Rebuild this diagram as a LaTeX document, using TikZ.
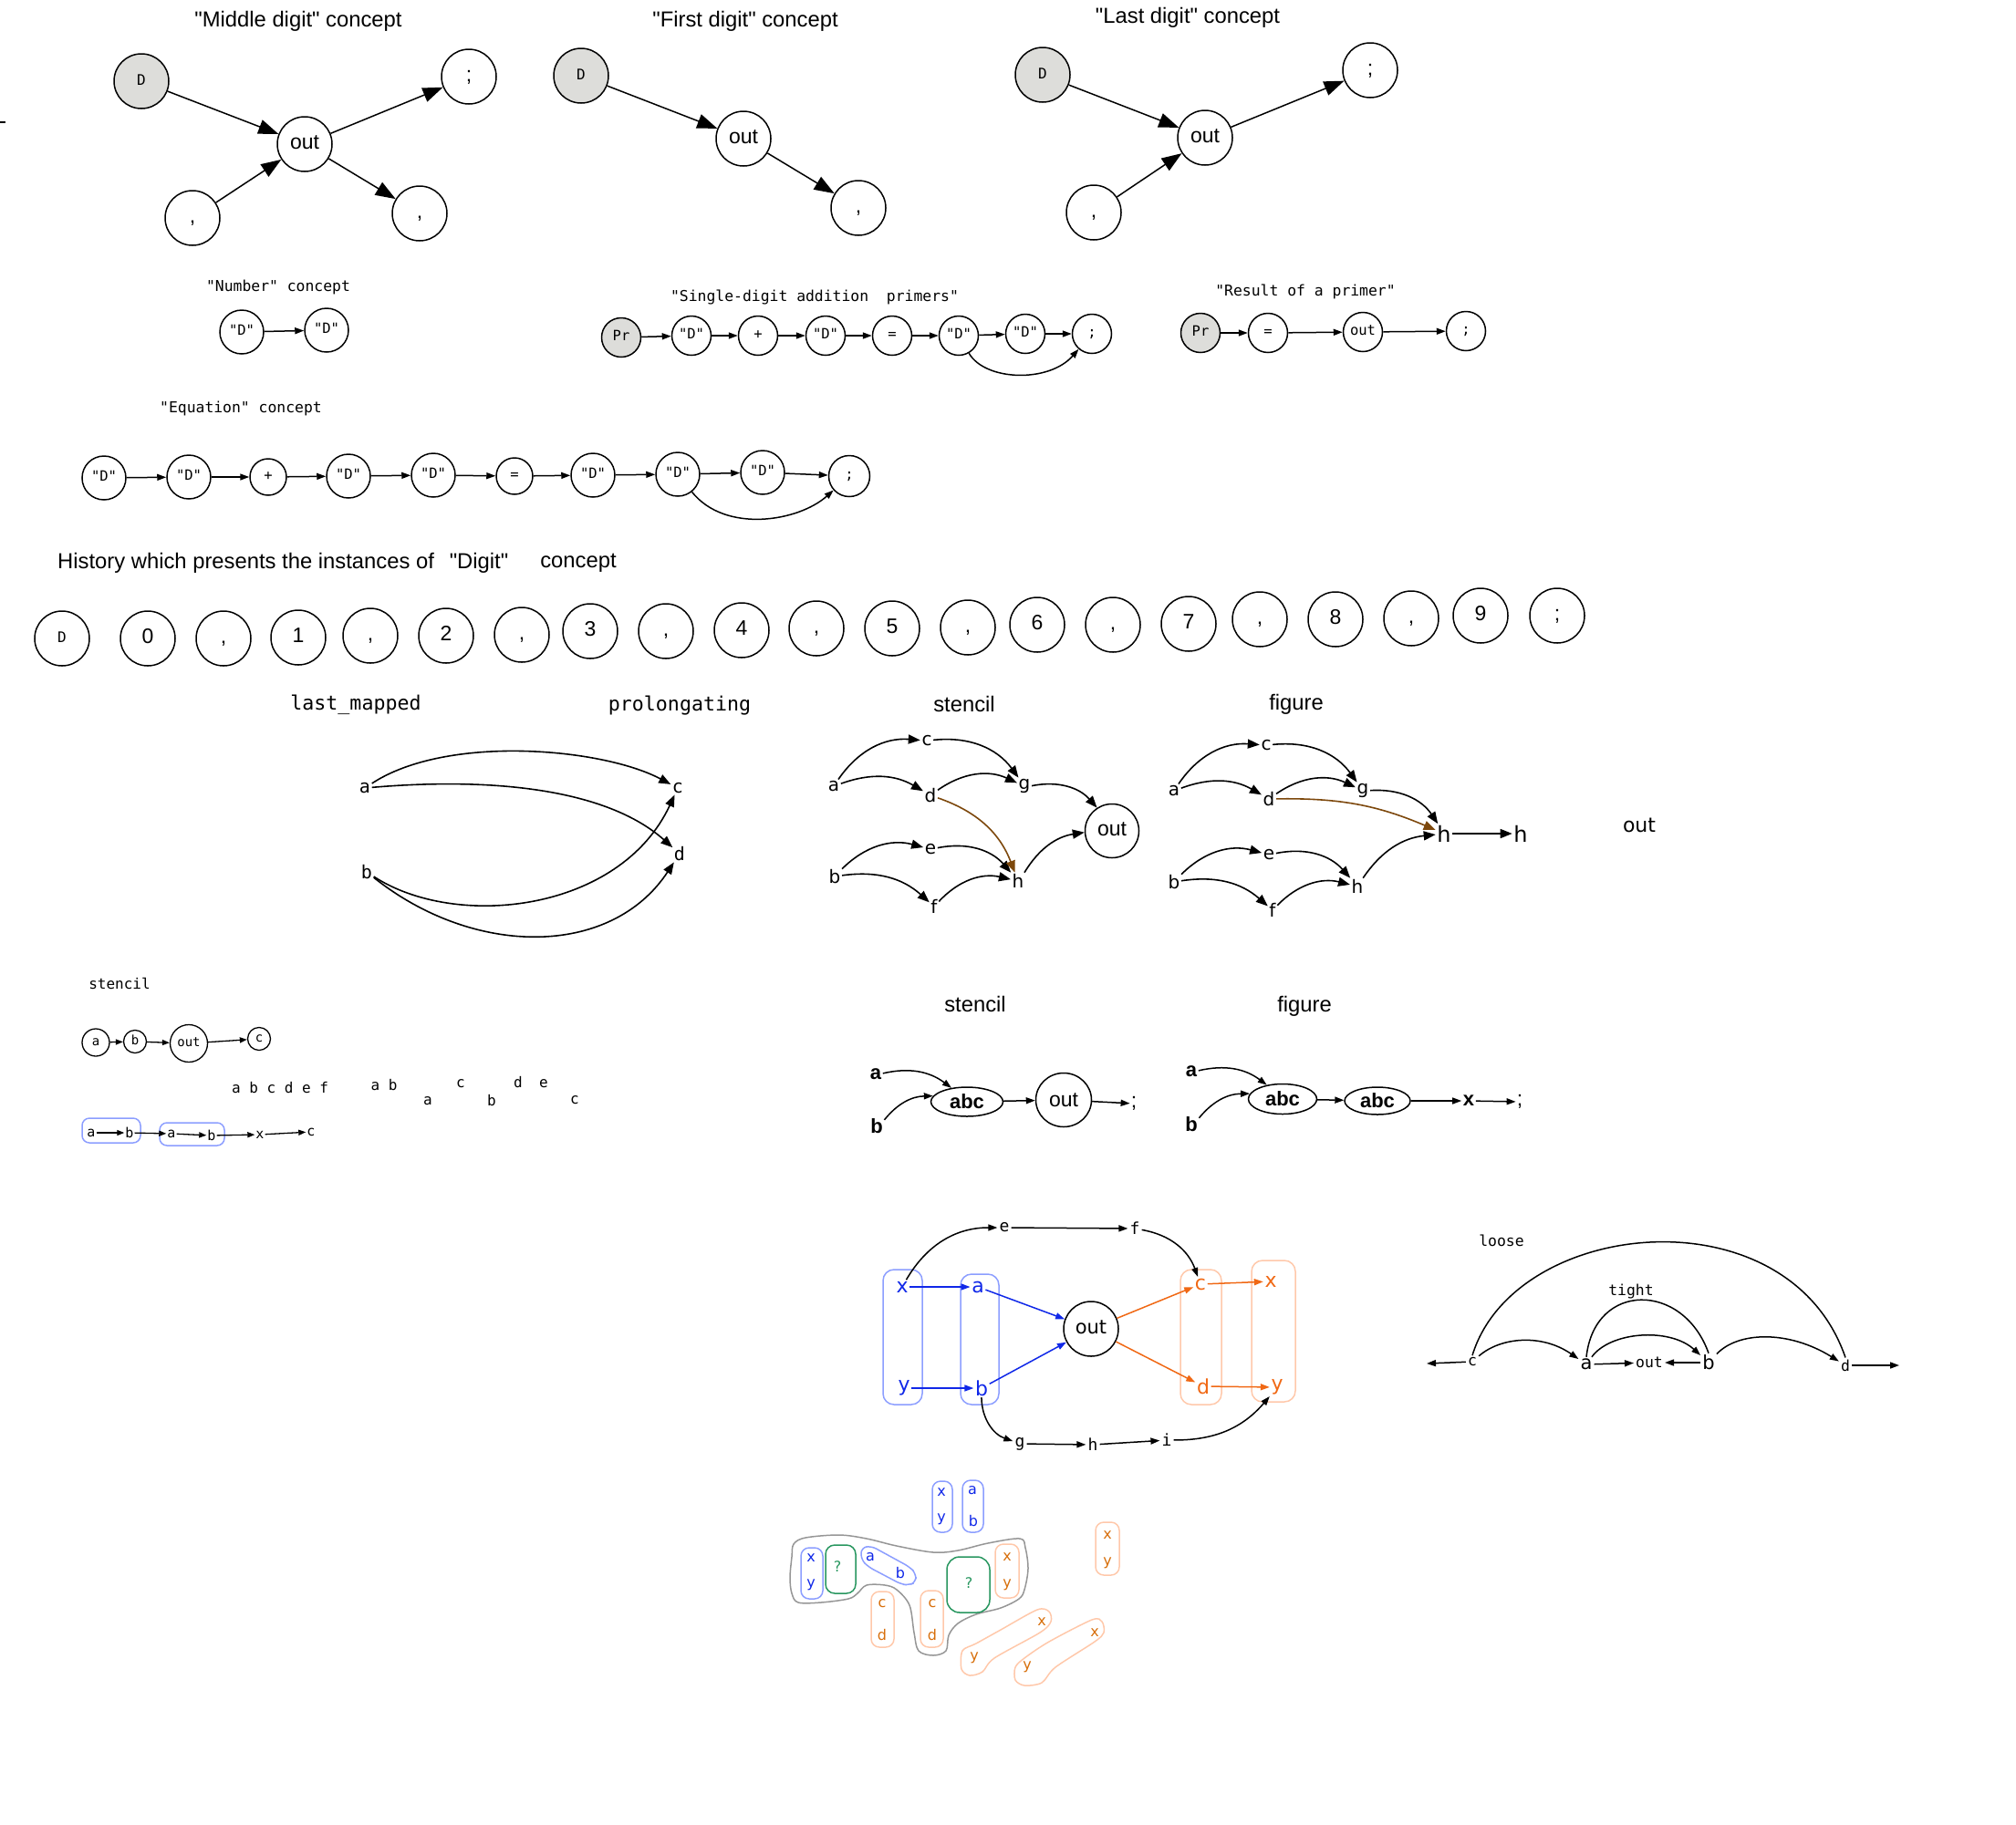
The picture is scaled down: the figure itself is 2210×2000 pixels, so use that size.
\documentclass[tikz,border=0pt]{standalone}
\usepackage{fontspec}
\setmainfont{Liberation Sans}[Ligatures=TeXOff]
\newfontfamily\dvs{DejaVu Sans}
\newfontfamily\dvm{DejaVu Sans Mono}
\usetikzlibrary{arrows.meta,shapes.geometric}
\newcommand\fsz[1]{\fontsize{#1}{#1}\selectfont}
\definecolor{gfill}{RGB}{221,221,218}
\definecolor{brn}{RGB}{125,72,12}
\definecolor{blu}{RGB}{16,40,232}
\definecolor{org}{RGB}{240,104,20}
\definecolor{lblu}{RGB}{140,158,255}
\definecolor{lorg}{RGB}{255,200,170}
\definecolor{grn}{RGB}{40,150,95}
\definecolor{gry}{RGB}{150,150,150}
\definecolor{orgt}{RGB}{215,110,10}
\tikzset{
 circ/.style={circle,draw,line width=1.5pt,inner sep=0pt,execute at begin node={\vphantom{Xg}}},
 bc/.style={circ,minimum size=60pt,font=\fsz{23}},
 gc/.style={bc,fill=gfill,font=\dvm\fsz{16}},
 ch/.style={circ,minimum size=48pt,font=\dvm\fsz{15.5}},
 chs/.style={circ,minimum size=40pt,font=\dvm\fsz{15.5}},
 pr/.style={circ,minimum size=43pt,font=\dvm\fsz{15.5}},
 bigarr/.style={line width=1.5pt,-{Triangle[length=22pt,width=16pt]}},
 smarr/.style={line width=1.5pt,-{Triangle[length=10pt,width=7pt]}},
 midarr/.style={line width=1.6pt,-{Triangle[length=13pt,width=10pt]}},
 tinyarr/.style={line width=1.3pt,-{Triangle[length=8pt,width=6pt]}},
 ttl/.style={font=\fsz{23.8}},
 mttl/.style={font=\dvm\fsz{16.4}},
 tl/.style={inner sep=1.5pt,font=\dvs\fsz{20}},
 ml/.style={inner sep=1.5pt,font=\dvm\fsz{20}},
 bt/.style={inner sep=1.5pt,font=\dvs\fsz{22},text=blu},
 ot/.style={inner sep=1.5pt,font=\dvs\fsz{22},text=org},
 mt/.style={inner sep=2pt,font=\dvm\fsz{18}},
 bld/.style={inner sep=1.5pt,font=\bfseries\fsz{22}},
 box/.style={line width=1.5pt,rounded corners=12pt},
 cl/.style={inner sep=0pt,font=\dvs\fsz{16}},
}
\begin{document}
\begin{tikzpicture}[x=1pt,y=-1pt]
\useasboundingbox (0,0) rectangle (2210,2000);
\draw[line width=1.5pt] (0,134)--(6,134);

% ---------- Middle digit ----------
\node[ttl] at (327,23) {"Middle digit" concept};
\node[gc] (md) at (155,89) {D};
\node[bc] (mo) at (334,158) {out};
\node[bc] (ms) at (514,84) {;};
\node[bc] (mc1) at (211,239) {,};
\node[bc] (mc2) at (460,234) {,};
\draw[bigarr] (md)--(mo);
\draw[bigarr] (mc1)--(mo);
\draw[bigarr] (mo)--(ms);
\draw[bigarr] (mo)--(mc2);

% ---------- First digit ----------
\node[ttl] at (817,23) {"First digit" concept};
\node[gc] (fD) at (637,83) {D};
\node[bc] (fo) at (815,152) {out};
\node[bc] (fcm) at (941,228) {,};
\draw[bigarr] (fD)--(fo);
\draw[bigarr] (fo)--(fcm);

% ---------- Last digit ----------
\node[ttl] at (1302,19) {"Last digit" concept};
\node[gc] (lD) at (1143,82) {D};
\node[bc] (lo) at (1321,151) {out};
\node[bc] (ls) at (1502,77) {;};
\node[bc] (lc) at (1199,233) {,};
\draw[bigarr] (lD)--(lo);
\draw[bigarr] (lc)--(lo);
\draw[bigarr] (lo)--(ls);

% ---------- Number concept ----------
\node[mttl] at (305,315) {"Number" concept};
\node[ch] (n1) at (265,364) {"D"};
\node[ch] (n2) at (358,362) {"D"};
\draw[smarr] (n1)--(n2);

% ---------- Single-digit addition primers ----------
\node[mttl] at (893,326) {"Single-digit addition\ \ primers"};
\node[pr,fill=gfill] (s1) at (681,370) {Pr};
\node[pr] (s2) at (758,368) {"D"};
\node[pr] (s3) at (831,368) {+};
\node[pr] (s4) at (905,368) {"D"};
\node[pr] (s5) at (978,368) {=};
\node[pr] (s6) at (1051,368) {"D"};
\node[pr] (s7) at (1124,366) {"D"};
\node[pr] (s8) at (1197,366) {;};
\foreach \p/\q in {s1/s2,s2/s3,s3/s4,s4/s5,s5/s6,s6/s7,s7/s8}
  \draw[smarr] (\p)--(\q);
\draw[smarr] (s6) .. controls (1080,418) and (1150,420) .. (s8);

% ---------- Result of a primer ----------
\node[mttl] at (1431,320) {"Result of a primer"};
\node[pr,fill=gfill] (r1) at (1316,365) {Pr};
\node[pr] (r2) at (1390,365) {=};
\node[pr] (r3) at (1494,364) {out};
\node[pr] (r4) at (1607,363) {;};
\draw[smarr] (r1)--(r2);
\draw[smarr] (r2)--(r3);
\draw[smarr] (r3)--(r4);

% ---------- Equation concept ----------
\node[mttl] at (264,448) {"Equation" concept};
\node[ch] (e1) at (114,524) {"D"};
\node[ch] (e2) at (207,523) {"D"};
\node[chs] (e3) at (294,523) {+};
\node[ch] (e4) at (382,522) {"D"};
\node[ch] (e5) at (475,521) {"D"};
\node[chs] (e6) at (564,522) {=};
\node[ch] (e7) at (650,521) {"D"};
\node[ch] (e8) at (743,520) {"D"};
\node[ch] (e9) at (836,518) {"D"};
\node[circ,minimum size=45pt,font=\dvm\fsz{15.5}] (e10) at (931,522) {;};
\foreach \p/\q in {e1/e2,e2/e3,e3/e4,e4/e5,e5/e6,e6/e7,e7/e8,e8/e9,e9/e10}
  \draw[smarr] (\p)--(\q);
\draw[smarr] (e8) .. controls (795,585) and (875,572) .. (e10);

% ---------- History ----------
\node[ttl,anchor=west,inner sep=0pt] at (63,617) {History which presents the instances of};
\node[ttl] at (525,617) {"Digit"};
\node[ttl] at (634,617) {concept};
\node[gc,fill=none] (h1) at (68,700) {D};
\node[bc] (h2) at (162,700) {0};
\node[bc] (h3) at (245,700) {,};
\node[bc] (h4) at (327,699) {1};
\node[bc] (h5) at (406,697) {,};
\node[bc] (h6) at (489,697) {2};
\node[bc] (h7) at (572,696) {,};
\node[bc] (h8) at (647,692) {3};
\node[bc] (h9) at (730,692) {,};
\node[bc] (h10) at (813,691) {4};
\node[bc] (h11) at (895,689) {,};
\node[bc] (h12) at (978,689) {5};
\node[bc] (h13) at (1061,688) {,};
\node[bc] (h14) at (1137,685) {6};
\node[bc] (h15) at (1220,685) {,};
\node[bc] (h16) at (1303,684) {7};
\node[bc] (h17) at (1381,679) {,};
\node[bc] (h18) at (1464,679) {8};
\node[bc] (h19) at (1547,678) {,};
\node[bc] (h20) at (1623,675) {9};
\node[bc] (h21) at (1707,675) {;};

% ---------- last_mapped / prolongating ----------
\node[font=\dvm\fsz{21.6}] at (390,773) {last\_mapped};
\node[font=\dvm\fsz{21.6}] at (745,774) {prolongating};
\node[ml] (la) at (400,864) {a};
\node[ml] (lb) at (402,956) {b};
\node[ml] (lcc) at (743,864) {c};
\node[ml] (ld) at (745,936) {d};
\draw[midarr] (la) .. controls (490,805) and (660,820) .. (lcc);
\draw[midarr] (la) .. controls (540,852) and (665,865) .. (ld);
\draw[midarr] (lb) .. controls (500,1020) and (680,1000) .. (lcc);
\draw[midarr] (lb) .. controls (520,1050) and (670,1050) .. (ld);

% ---------- stencil (middle) ----------
\node[ttl] at (1057,772) {stencil};
\node[tl] (Sa) at (914,862) {a};
\node[tl] (Sb) at (915,961) {b};
\node[tl] (Sc) at (1016,812) {c};
\node[tl] (Sd) at (1020,872) {d};
\node[tl] (Se) at (1020,931) {e};
\node[tl] (Sf) at (1024,994) {f};
\node[tl] (Sg) at (1123,862) {g};
\node[tl] (Sh) at (1116,966) {h};
\node[circ,minimum size=59pt,font=\fsz{23}] (So) at (1219,911) {out};
\draw[midarr] (Sa) to[bend left=30] (Sc);
\draw[midarr] (Sa) to[bend left=25] (Sd);
\draw[midarr] (Sc) to[bend left=30] (Sg);
\draw[midarr] (Sd) to[bend left=30] (Sg);
\draw[midarr] (Sg) to[bend left=30] (So);
\draw[midarr] (Sb) to[bend left=30] (Se);
\draw[midarr] (Sb) to[bend left=25] (Sf);
\draw[midarr] (Se) to[bend left=30] (Sh);
\draw[midarr] (Sf) to[bend left=30] (Sh);
\draw[midarr] (Sh) to[bend left=25] (So);
\draw[midarr,brn] (Sd) to[bend left=25] (Sh);

% ---------- figure (top right) ----------
\node[ttl] at (1421,772) {figure};
\node[tl] (Fa) at (1287,867) {a};
\node[tl] (Fc) at (1388,817) {c};
\node[tl] (Fd) at (1391,876) {d};
\node[tl] (Fg) at (1494,867) {g};
\node[tl,font=\dvs\fsz{24}] (Fh1) at (1583,914) {h};
\node[tl,font=\dvs\fsz{24}] (Fh2) at (1667,914) {h};
\node[tl] (Fb) at (1287,967) {b};
\node[tl] (Fe) at (1391,937) {e};
\node[tl] (Ff) at (1395,998) {f};
\node[tl] (Fh3) at (1488,972) {h};
\node[font=\dvs\fsz{22}] at (1797,905) {out};
\draw[midarr] (Fa) to[bend left=30] (Fc);
\draw[midarr] (Fa) to[bend left=25] (Fd);
\draw[midarr] (Fc) to[bend left=30] (Fg);
\draw[midarr] (Fd) to[bend left=30] (Fg);
\draw[midarr] (Fg) to[bend left=30] (Fh1);
\draw[midarr] (Fb) to[bend left=30] (Fe);
\draw[midarr] (Fb) to[bend left=25] (Ff);
\draw[midarr] (Fe) to[bend left=30] (Fh3);
\draw[midarr] (Ff) to[bend left=30] (Fh3);
\draw[midarr] (Fh3) to[bend left=25] (Fh1);
\draw[midarr,brn] (Fd) to[bend left=12] (Fh1);
\draw[midarr] (Fh1)--(Fh2);

% ---------- small stencil (left) ----------
\node[font=\dvm\fsz{16}] at (131,1078) {stencil};
\node[circ,line width=1.3pt,minimum size=30pt,font=\dvm\fsz{14}] (ta) at (105,1143) {a};
\node[circ,line width=1.3pt,minimum size=25pt,font=\dvm\fsz{14}] (tb) at (148,1142) {b};
\node[circ,line width=1.3pt,minimum size=41pt,font=\dvm\fsz{14}] (to) at (207,1144) {out};
\node[circ,line width=1.3pt,minimum size=25pt,font=\dvm\fsz{14}] (tc) at (284,1139) {c};
\draw[tinyarr] (ta)--(tb);
\draw[tinyarr] (tb)--(to);
\draw[tinyarr] (to)--(tc);
\node[font=\dvm\fsz{16}] at (307,1193) {a b c d e f};
\node[font=\dvm\fsz{16}] at (421,1190) {a b};
\node[font=\dvm\fsz{16}] at (469,1207) {a};
\node[font=\dvm\fsz{16}] at (505,1188) {c};
\node[font=\dvm\fsz{16}] at (539,1207) {b};
\node[font=\dvm\fsz{16}] at (568,1187) {d};
\node[font=\dvm\fsz{16}] at (596,1188) {e};
\node[font=\dvm\fsz{16}] at (630,1206) {c};
\draw[lblu,box,rounded corners=8pt] (90,1226) rectangle (154,1253);
\draw[lblu,box,rounded corners=8pt] (175,1231) rectangle (246,1256);
\node[inner sep=1pt,font=\dvm\fsz{15}] (Ba1) at (100,1242) {a};
\node[inner sep=1pt,font=\dvm\fsz{15}] (Bb1) at (142,1242) {b};
\node[inner sep=1pt,font=\dvm\fsz{15}] (Ba2) at (188,1243) {a};
\node[inner sep=1pt,font=\dvm\fsz{15}] (Bb2) at (232,1245) {b};
\node[inner sep=1pt,font=\dvm\fsz{15}] (Bx) at (285,1244) {x};
\node[inner sep=1pt,font=\dvm\fsz{15}] (Bc) at (341,1241) {c};
\draw[tinyarr] (Ba1)--(Bb1);
\draw[tinyarr] (Bb1)--(Ba2);
\draw[tinyarr] (Ba2)--(Bb2);
\draw[tinyarr] (Bb2)--(Bx);
\draw[tinyarr] (Bx)--(Bc);

% ---------- stencil / figure (abc) ----------
\node[ttl] at (1069,1101) {stencil};
\node[ttl] at (1430,1103) {figure};
\node[bld] (Aa) at (960,1178) {a};
\node[bld] (Ab) at (961,1235) {b};
\node[ellipse,draw,line width=1.5pt,minimum width=79pt,minimum height=32pt,inner sep=0pt,font=\bfseries\fsz{22}] (Aabc) at (1060,1208) {abc};
\node[ellipse,draw,line width=1.5pt,minimum width=61pt,minimum height=59pt,inner sep=0pt,font=\fsz{23}] (Aout) at (1166,1206) {out};
\node[inner sep=1pt,font=\fsz{23}] (As) at (1243,1210) {;};
\draw[smarr] (Aa) to[bend left=25] (Aabc);
\draw[smarr] (Ab) to[bend left=25] (Aabc);
\draw[smarr] (Aabc)--(Aout);
\draw[smarr] (Aout)--(As);
\node[bld] (Ba) at (1306,1175) {a};
\node[bld] (Bb) at (1306,1233) {b};
\node[ellipse,draw,line width=1.5pt,minimum width=75pt,minimum height=33pt,inner sep=0pt,font=\bfseries\fsz{22}] (Babc1) at (1406,1205) {abc};
\node[ellipse,draw,line width=1.5pt,minimum width=72pt,minimum height=30pt,inner sep=0pt,font=\bfseries\fsz{22}] (Babc2) at (1510,1207) {abc};
\node[bld] (Bxx) at (1610,1207) {x};
\node[inner sep=1pt,font=\fsz{23}] (Bs) at (1666,1208) {;};
\draw[smarr] (Ba) to[bend left=25] (Babc1);
\draw[smarr] (Bb) to[bend left=25] (Babc1);
\draw[smarr] (Babc1)--(Babc2);
\draw[smarr] (Babc2)--(Bxx);
\draw[smarr] (Bxx)--(Bs);

% ---------- blue / orange graph ----------
\draw[lblu,box] (968,1392) rectangle (1011,1540);
\draw[lblu,box] (1053,1397) rectangle (1095,1540);
\draw[lorg,box] (1294,1392) rectangle (1339,1540);
\draw[lorg,box] (1372,1382) rectangle (1420,1537);
\node[bt] (Gx) at (989,1411) {x};
\node[bt] (Gy) at (991,1522) {y};
\node[bt] (Ga) at (1072,1411) {a};
\node[bt] (Gb) at (1076,1522) {b};
\node[circ,minimum size=60pt,font=\dvs\fsz{21}] (Go) at (1196,1457) {out};
\node[ot] (Gc) at (1316,1408) {c};
\node[ot] (Gd) at (1319,1520) {d};
\node[ot] (Gx2) at (1393,1405) {x};
\node[ot] (Gy2) at (1400,1521) {y};
\node[mt] (Ge) at (1101,1346) {e};
\node[mt] (Gf) at (1244,1347) {f};
\node[mt] (Gg) at (1118,1583) {g};
\node[mt] (Gh) at (1198,1584) {h};
\node[mt] (Gi) at (1279,1579) {i};
\draw[smarr,blu] (Gx)--(Ga);
\draw[smarr,blu] (Gy)--(Gb);
\draw[smarr,blu] (Ga)--(Go);
\draw[smarr,blu] (Gb)--(Go);
\draw[smarr,org] (Go)--(Gc);
\draw[smarr,org] (Go)--(Gd);
\draw[smarr,org] (Gc)--(Gx2);
\draw[smarr,org] (Gd)--(Gy2);
\draw[smarr] (Gx) to[bend left=30] (Ge);
\draw[smarr] (Ge)--(Gf);
\draw[smarr] (Gf) to[bend left=30] (Gc);
\draw[smarr] (Gb) to[bend right=35] (Gg);
\draw[smarr] (Gg)--(Gh);
\draw[smarr] (Gh)--(Gi);
\draw[smarr] (Gi) to[bend right=25] (Gy2);

% ---------- loose / tight ----------
\node[font=\dvm\fsz{16.4}] at (1646,1360) {loose};
\node[font=\dvm\fsz{16.4}] at (1788,1416) {tight};
\node[inner sep=2pt,font=\dvm\fsz{16.4}] (Lc) at (1614,1493) {c};
\node[inner sep=2pt,font=\dvs\fsz{21}] (La) at (1739,1496) {a};
\node[inner sep=2pt,font=\dvm\fsz{16.4}] (Lo) at (1808,1494) {out};
\node[inner sep=2pt,font=\dvs\fsz{21}] (Lb) at (1873,1494) {b};
\node[inner sep=2pt,font=\dvm\fsz{16.4}] (Ld) at (2023,1497) {d};
\coordinate (Lcl) at (1564,1495);
\coordinate (Ldr) at (2082,1497);
\draw[smarr] (Lc)--(Lcl);
\draw[smarr] (Ld)--(Ldr);
\draw[smarr] (La)--(Lo);
\draw[smarr] (Lb)--(Lo);
\draw[smarr] (Lc) .. controls (1645,1466) and (1690,1462) .. (La);
\draw[smarr] (La) .. controls (1765,1460) and (1830,1455) .. (Lb);
\draw[line width=1.5pt] (La.north) .. controls (1748,1405) and (1845,1405) .. (Lb.north);
\draw[smarr] (Lb) .. controls (1905,1460) and (1960,1458) .. (Ld);
\draw[line width=1.5pt] (Lc.north) .. controls (1660,1335) and (1960,1305) .. (Ld.north);

% ---------- bottom cluster ----------
\draw[gry,line width=1.5pt] plot[smooth cycle,tension=0.55] coordinates {
 (870,1693) (883,1686) (920,1683) (950,1687) (983,1695) (1023,1702) (1050,1700)
 (1083,1692) (1118,1687) (1124,1697) (1127,1720) (1123,1743) (1117,1753) (1097,1763)
 (1070,1770) (1050,1780) (1040,1793) (1037,1810) (1023,1815) (1007,1810) (1002,1790)
 (997,1760) (983,1743) (970,1738) (950,1738) (940,1747) (930,1753) (900,1757)
 (875,1757) (868,1747) (866,1730) (868,1707)};
\draw[lblu,box,rounded corners=9pt] (1022,1624) rectangle (1044,1680);
\draw[lblu,box,rounded corners=9pt] (1055,1623) rectangle (1078,1680);
\draw[lorg,box,rounded corners=9pt] (1201,1669) rectangle (1227,1727);
\draw[lblu,box,rounded corners=9pt] (878,1697) rectangle (902,1753);
\draw[grn,box,rounded corners=10pt] (905,1694) rectangle (938,1747);
\draw[grn,box,rounded corners=14pt] (1038,1707) rectangle (1085,1768);
\draw[lorg,box,rounded corners=9pt] (1091,1693) rectangle (1117,1752);
\draw[lorg,box,rounded corners=9pt] (955,1745) rectangle (980,1806);
\draw[lorg,box,rounded corners=9pt] (1009,1744) rectangle (1034,1806);
\draw[lblu,box,rounded corners=6pt] (944,1697)--(955,1695)--(997,1718)--(1004,1725)--(1004,1735)--(996,1738)--(988,1737)--(952,1718)--(944,1710)--cycle;
\draw[lorg,line width=1.5pt] plot[smooth cycle,tension=0.5] coordinates {
 (1055,1810) (1070,1802) (1097,1787) (1137,1765) (1150,1767) (1152,1778) (1140,1790)
 (1090,1818) (1077,1833) (1063,1837) (1054,1830)};
\draw[lorg,line width=1.5pt] plot[smooth cycle,tension=0.5] coordinates {
 (1113,1828) (1123,1818) (1150,1800) (1197,1776) (1208,1778) (1210,1790) (1200,1800)
 (1157,1828) (1142,1845) (1123,1848) (1113,1842)};
\node[cl,text=blu] at (1032,1636) {x};
\node[cl,text=blu] at (1032,1666) {y};
\node[cl,text=blu] at (1066,1634) {a};
\node[cl,text=blu] at (1067,1668) {b};
\node[cl,text=orgt] at (1214,1683) {x};
\node[cl,text=orgt] at (1214,1714) {y};
\node[cl,text=blu] at (889,1708) {x};
\node[cl,text=blu] at (889,1738) {y};
\node[cl,text=grn] at (918,1718) {?};
\node[cl,text=grn] at (1062,1736) {?};
\node[cl,text=orgt] at (1104,1707) {x};
\node[cl,text=orgt] at (1104,1738) {y};
\node[cl,text=orgt] at (967,1758) {c};
\node[cl,text=orgt] at (967,1793) {d};
\node[cl,text=orgt] at (1022,1758) {c};
\node[cl,text=orgt] at (1022,1793) {d};
\node[cl,text=blu] at (954,1707) {a};
\node[cl,text=blu] at (987,1725) {b};
\node[cl,text=orgt] at (1142,1778) {x};
\node[cl,text=orgt] at (1068,1818) {y};
\node[cl,text=orgt] at (1200,1790) {x};
\node[cl,text=orgt] at (1126,1828) {y};
\end{tikzpicture}
\end{document}
